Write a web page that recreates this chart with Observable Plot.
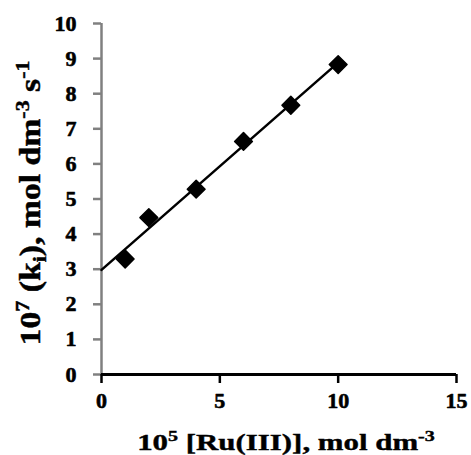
<!DOCTYPE html>
<html><head><meta charset="utf-8">
<script src="https://cdn.jsdelivr.net/npm/d3@7"></script>
<script src="https://cdn.jsdelivr.net/npm/@observablehq/plot@0.6"></script>
<style>
body{margin:0;background:#fff} #chart{width:471px;height:455px}
</style>
</head><body><div id="chart"></div>
<script>
// Data
const ruConc = [1, 2, 4, 6, 8, 10];          // 10^5 [Ru(III)], mol dm^-3
const rateKi = [3.29, 4.47, 5.28, 6.64, 7.67, 8.83]; // 10^7 (k_i), mol dm^-3 s^-1
const xTicks = [0, 5, 10, 15];
const yTicks = [0, 1, 2, 3, 4, 5, 6, 7, 8, 9, 10];
const xLabelParts = [["10", ""], ["5", "sup"], [" [Ru(III)], mol dm", ""], ["-3", "sup"]];
const yLabelParts = [["10", ""], ["7", "sup"], [" (k", ""], ["i", "sub"], ["), mol dm", ""], ["-3", "sup"], [" s", ""], ["-1", "sup"]];

const data = ruConc.map((x, i) => ({x, y: rateKi[i]}));
const mx = d3.mean(ruConc), my = d3.mean(rateKi);
const slope = d3.sum(data, d => (d.x - mx) * (d.y - my)) / d3.sum(data, d => (d.x - mx) ** 2);
const intercept = my - slope * mx;
const trend = [0, d3.max(ruConc)].map(x => ({x, y: intercept + slope * x}));

const FONT = "Liberation Serif, Times New Roman, serif";
const plot = Plot.plot({
  width: 471, height: 455,
  marginLeft: 101, marginRight: 15, marginTop: 23, marginBottom: 81,
  style: {fontFamily: FONT, fontSize: "22px", fontWeight: "bold", color: "black", background: "white", overflow: "visible"},
  x: {type: "linear", domain: [0, 15], ticks: xTicks, label: null},
  y: {type: "linear", domain: [0, 10], ticks: yTicks, label: null},
  marks: [
    Plot.axisY({ticks: yTicks, tickSize: 8, tickFormat: () => "", stroke: "#808080", strokeWidth: 2.5, label: null}),
    Plot.axisX({ticks: xTicks, tickSize: 9, tickFormat: () => "", stroke: "black", strokeWidth: 2.5, label: null}),
    Plot.text(yTicks, {x: 0, y: d => d, text: d => String(d), dx: -25, textAnchor: "end", fontSize: 22, fontWeight: "bold", fontFamily: FONT, fill: "black", stroke: "black", strokeWidth: 0.6}),
    Plot.text(xTicks, {x: d => d, y: 0, text: d => String(d), dy: 26, fontSize: 22, fontWeight: "bold", fontFamily: FONT, fill: "black", stroke: "black", strokeWidth: 0.6}),
    Plot.ruleX([0], {stroke: "#808080", strokeWidth: 2.5}),
    Plot.ruleY([0], {stroke: "black", strokeWidth: 3}),
    Plot.line(trend, {x: "x", y: "y", stroke: "black", strokeWidth: 2.5}),
    Plot.dot(data, {x: "x", y: "y", symbol: "diamond2", r: 8, fill: "black", stroke: "black", strokeWidth: 1.5, strokeLinejoin: "round"})
  ]
});
document.getElementById("chart").append(plot);
const svg = d3.select(plot);

function richText(parts, size) {
  const t = svg.append("text")
    .attr("font-family", FONT).attr("font-weight", "bold").attr("font-size", size)
    .attr("text-anchor", "middle").attr("fill", "black")
    .attr("stroke", "black").attr("stroke-width", 0.4);
  let shift = 0;
  for (const [s, kind] of parts) {
    const target = kind === "sup" ? -0.38 * size : kind === "sub" ? 0.22 * size : 0;
    t.append("tspan").attr("dy", target - shift).attr("font-size", kind ? size * 0.65 : size).text(s);
    shift = target;
  }
  return t;
}
// x label
const xl = richText(xLabelParts, 24);
let bb = xl.node().getBBox();
xl.attr("transform", `translate(286,450) scale(${298 / bb.width},1)`);
// y label
const yl = richText(yLabelParts, 26);
bb = yl.node().getBBox();
yl.attr("transform", `translate(40,203) rotate(-90) scale(${285 / bb.width},1.1)`);
</script></body></html>
